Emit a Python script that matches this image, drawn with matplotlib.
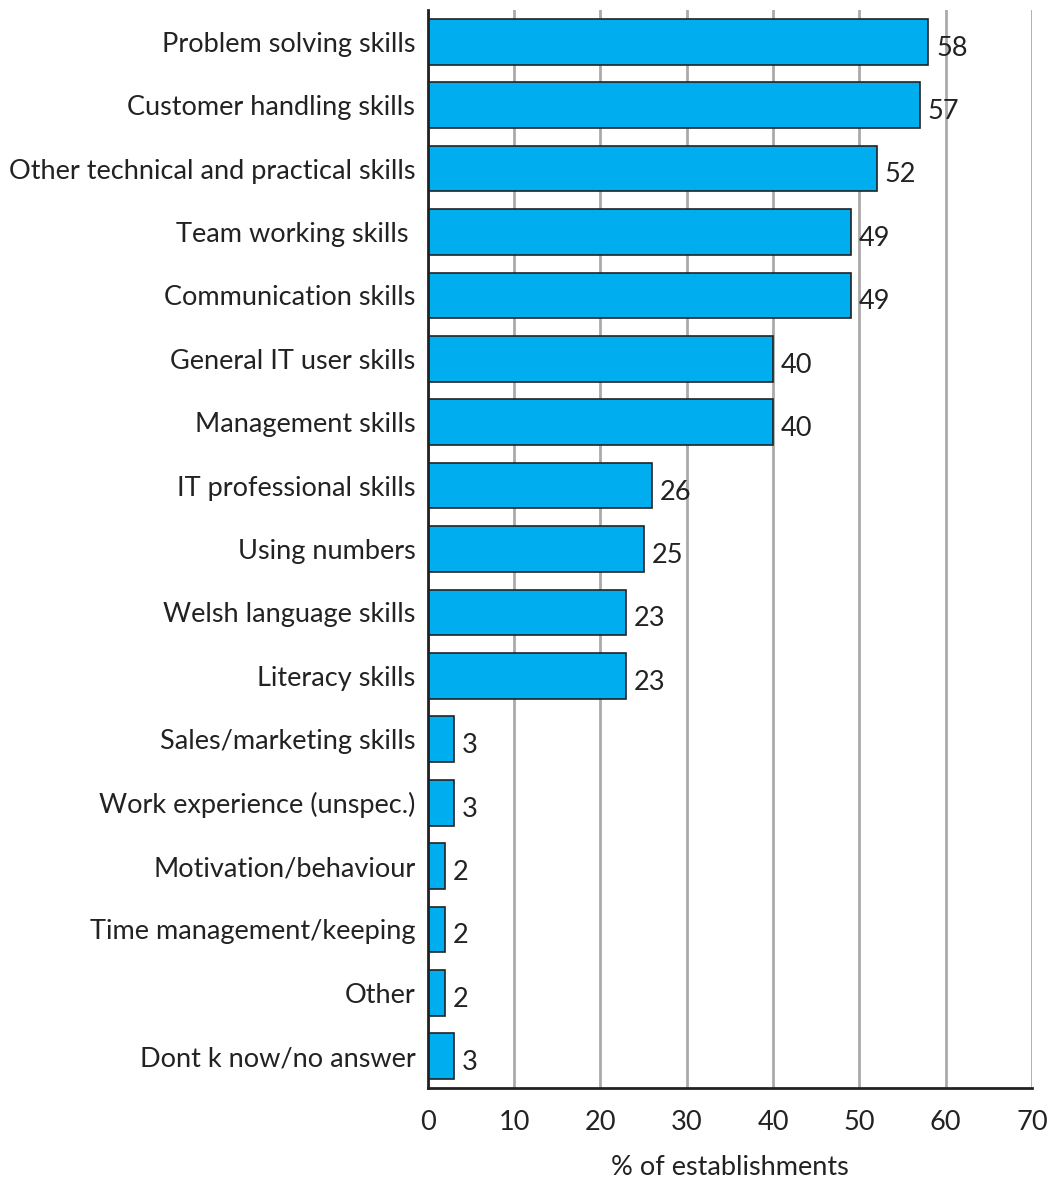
import matplotlib.pyplot as plt

# Datos
categorias = [
    "Problem solving skills",
    "Customer handling skills",
    "Other technical and practical skills",
    "Team working skills ",
    "Communication skills",
    "General IT user skills",
    "Management skills",
    "IT professional skills",
    "Using numbers",
    "Welsh language skills",
    "Literacy skills",
    "Sales/marketing skills",
    "Work experience (unspec.)",
    "Motivation/behaviour",
    "Time management/keeping",
    "Other",
    "Dont k now/no answer",
]
valores = [58, 57, 52, 49, 49, 40, 40, 26, 25, 23, 23, 3, 3, 2, 2, 2, 3]
ticks_x = [0, 10, 20, 30, 40, 50, 60, 70]

plt.rcParams['font.family'] = ['Lato', 'DejaVu Sans']
fs = 19.5

fig = plt.figure(figsize=(10.51, 11.78), dpi=100)
ax = fig.add_axes([0.407, 0.0764, 0.575, 0.915])

pos = list(range(len(categorias)))
ax.barh(pos, valores, height=0.72, color='#00AEEF', edgecolor='#222222', linewidth=1.2, zorder=3)

for p, v in zip(pos, valores):
    ax.text(v + 0.9, p + 0.1, str(v), va='center', ha='left', fontsize=fs, color='#222222')

ax.set_yticks(pos)
ax.set_yticklabels(categorias, fontsize=fs, color='#222222')
ax.set_ylim(len(categorias) - 0.5, -0.5)
ax.set_xlim(0, 70)
ax.set_xticks(ticks_x)
ax.set_xticklabels([str(t) for t in ticks_x], fontsize=fs, color='#222222')
ax.tick_params(axis='y', length=0, pad=9)
ax.tick_params(axis='x', length=0, pad=16)
ax.set_xlabel("% of establishments", fontsize=fs, color='#222222', labelpad=14)

ax.grid(axis='x', color='#AAAAAA', linewidth=2, zorder=0)
for s in ['top', 'right']:
    ax.spines[s].set_visible(False)
for s in ['left', 'bottom']:
    ax.spines[s].set_linewidth(2)
    ax.spines[s].set_color('#222222')
    ax.spines[s].set_zorder(4)

plt.savefig("out.png", dpi=100)
